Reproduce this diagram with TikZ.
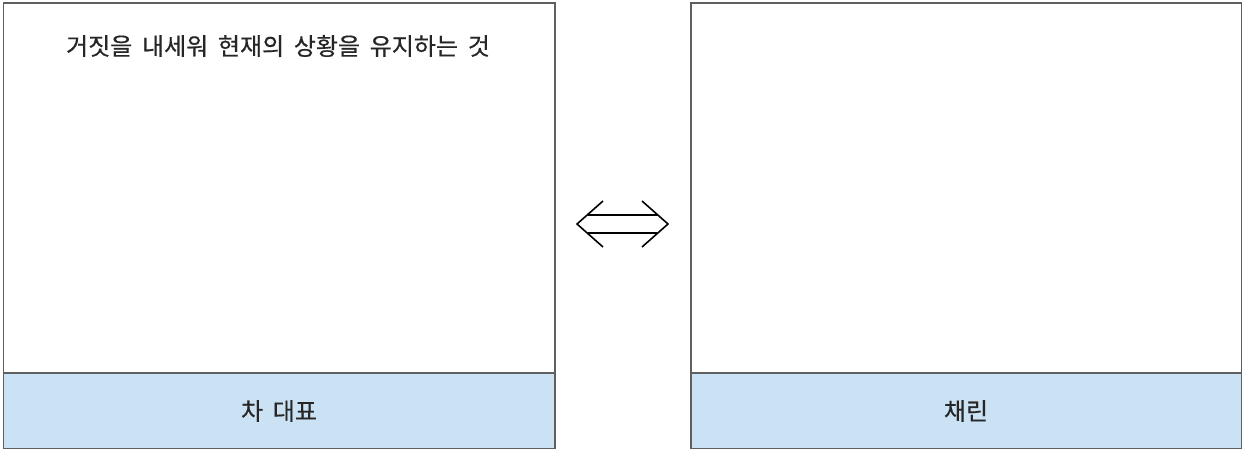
\documentclass[tikz,border=0pt]{standalone}
\usepackage{fontspec}
\newfontfamily\kr[FakeBold=0.5,WordSpace=1.8]{Noto Sans CJK KR}
\definecolor{boxline}{RGB}{95,95,95}
\definecolor{bandfill}{RGB}{203,225,244}
\tikzset{
  panel/.style={draw=boxline, line width=1.8pt, fill=white},
  band/.style={draw=boxline, line width=1.8pt, fill=bandfill},
  lbl/.style={font=\kr\fontsize{24}{28}\selectfont, text=black!85, inner sep=0pt, anchor=center},
  arr/.style={draw=black, line width=1.6pt},
}
\begin{document}
\begin{tikzpicture}[x=1pt,y=-1pt]
\useasboundingbox (0,0) rectangle (1244,450);
% left
\draw[panel] (3.5,3) rectangle (555,448.5);
\draw[band] (3.5,373) rectangle (555,448.5);
\node[lbl] (ltop) at (278,46) {거짓을 내세워 현재의 상황을 유지하는 것};
\node[lbl] (lbot) at (279,411) {차 대표};
% right
\draw[panel] (691,3) rectangle (1241.5,448.5);
\draw[band] (691,373) rectangle (1241.5,448.5);
\node[lbl] (rbot) at (966,411) {채린};
% arrow
\coordinate (tl) at (577,224);
\coordinate (tr) at (668,224);
\draw[arr] (603,201) -- (tl) -- (603,247);
\draw[arr] (642,201) -- (tr) -- (642,247);
\draw[arr] (588,215) -- (657,215);
\draw[arr] (588,233) -- (657,233);
\end{tikzpicture}
\end{document}
